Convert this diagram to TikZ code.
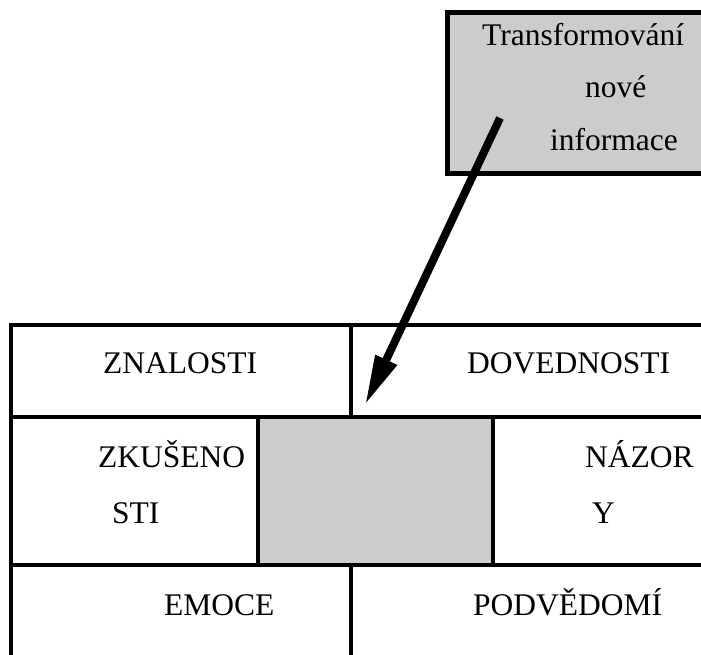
\documentclass[tikz,border=0pt]{standalone}
\usepackage{fontspec}
\setmainfont{Liberation Serif}
\usetikzlibrary{arrows.meta}
\definecolor{panel}{HTML}{CCCCCC}
\tikzset{
  lbl/.style={anchor=base west, inner sep=0pt, font=\fontsize{31.5}{36}\selectfont},
  grid/.style={line width=3.5pt},
  bigarrow/.style={line width=8pt, -{Triangle[length=50pt,width=22pt]}}
}
\begin{document}
\begin{tikzpicture}[x=1pt,y=-1pt]
\useasboundingbox (0,0) rectangle (701,654);

% source box
\filldraw[fill=panel, line width=5pt] (447,12) rectangle (710,173);
\node[lbl] (t1) at (482,45) {Transformování};
\node[lbl] (t2) at (585,97) {nové};
\node[lbl] (t3) at (550,150) {informace};

% central grey cell
\fill[panel] (258,417) rectangle (493,565);

% table rules
\draw[grid] (10,325) -- (710,325);
\draw[grid] (10,417) -- (710,417);
\draw[grid] (10,565) -- (710,565);
\draw[grid] (11,323) -- (11,660);
\draw[grid] (351,325) -- (351,417);
\draw[grid] (351,565) -- (351,660);
\draw[grid] (258,417) -- (258,565);
\draw[grid] (493,417) -- (493,565);

% cell labels
\node[lbl] (zn) at (103,373) {ZNALOSTI};
\node[lbl] (dv) at (467,373) {DOVEDNOSTI};
\node[lbl] (zk1) at (98,467) {ZKUŠENO};
\node[lbl] (zk2) at (112,523) {STI};
\node[lbl] (nz1) at (585,467) {NÁZOR};
\node[lbl] (nz2) at (592,523) {Y};
\node[lbl] (em) at (164,615) {EMOCE};
\node[lbl] (pd) at (473,615) {PODVĚDOMÍ};

% arrow into the centre
\coordinate (src) at (500,118);
\coordinate (dst) at (365,405);
\draw[bigarrow] (src) -- (dst);
\end{tikzpicture}
\end{document}
